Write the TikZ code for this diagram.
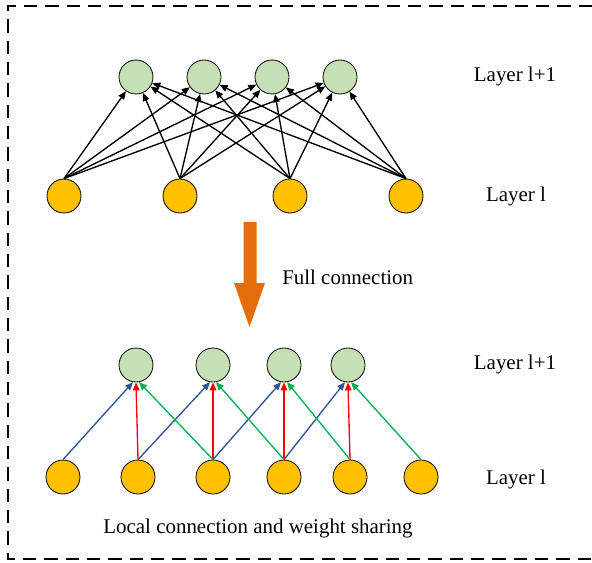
\documentclass[tikz,border=0pt]{standalone}
\usepackage{fontspec}
\setmainfont{Liberation Serif}
\usetikzlibrary{arrows.meta}
\definecolor{outgreen}{HTML}{C5E0B4}
\definecolor{ingold}{HTML}{FFC000}
\definecolor{wblue}{HTML}{2F5597}
\definecolor{wred}{HTML}{FF0000}
\definecolor{wgreen}{HTML}{00B050}
\definecolor{bigorange}{HTML}{E46C0A}

\begin{document}
\begin{tikzpicture}[
    x=0.75pt, y=-0.75pt,
    upper/.style={circle, draw=black, line width=0.6pt, fill=outgreen,
                  minimum size=25.5pt, inner sep=0pt},
    lower/.style={circle, draw=black, line width=0.6pt, fill=ingold,
                  minimum size=25.5pt, inner sep=0pt},
    link/.style={line width=1pt, -{Triangle[length=6pt,width=5pt]}},
    lbl/.style={font=\fontsize{15.7}{19}\selectfont, inner sep=0pt},
    frame/.style={line width=1.1pt, dash pattern=on 10pt off 6pt}
]
\useasboundingbox (0,0) rectangle (592,563);

% --- Outer dashed frame (right side runs off the page) ---
\draw[frame] (592,6) -- (8,6) -- (8,559) -- (592,559);

% --- Full connection: layer l+1 ---
\node[upper] (fu1) at (136,77) {};
\node[upper] (fu2) at (204,77) {};
\node[upper] (fu3) at (272,77) {};
\node[upper] (fu4) at (340,77) {};

% --- Full connection: layer l ---
\node[lower] (fl1) at (64,196) {};
\node[lower] (fl2) at (180,196) {};
\node[lower] (fl3) at (290,196) {};
\node[lower] (fl4) at (406,196) {};

% --- Every input feeds every output ---
\foreach \i in {1,2,3,4}
  \foreach \j in {1,2,3,4}
    \draw[link] (fl\i.north) -- (fu\j);

\node[lbl] (ftop) at (515,76) {Layer l+1};
\node[lbl] (fbot) at (516,196) {Layer l};

% --- Big orange arrow between the two halves ---
\fill[bigorange] (243.5,222) -- (256.5,222) -- (256.5,283) -- (265,283)
    -- (249.5,327) -- (234,283) -- (243.5,283) -- cycle;
\node[lbl, anchor=west] (fulltxt) at (282,277) {Full connection};

% --- Local connection: layer l+1 ---
\node[upper] (lu1) at (136,365) {};
\node[upper] (lu2) at (213,365) {};
\node[upper] (lu3) at (284,365) {};
\node[upper] (lu4) at (348,365) {};

% --- Local connection: layer l ---
\node[lower] (ll1) at (63,477) {};
\node[lower] (ll2) at (138,477) {};
\node[lower] (ll3) at (213,477) {};
\node[lower] (ll4) at (284,477) {};
\node[lower] (ll5) at (350,477) {};
\node[lower] (ll6) at (421,477) {};

% --- Shared weights: one colour per kernel position ---
\draw[link, wblue] (ll1.north) -- (lu1.260);
\draw[link, wblue] (ll2.north) -- (lu2.260);
\draw[link, wblue] (ll3.north) -- (lu3.260);
\draw[link, wblue] (ll4.north) -- (lu4.260);
\draw[link, wred] (ll2.north) -- (lu1.south);
\draw[link, wred] (ll3.north) -- (lu2.south);
\draw[link, wred] (ll4.north) -- (lu3.south);
\draw[link, wred] (ll5.north) -- (lu4.south);
\draw[link, wgreen] (ll3.north) -- (lu1.280);
\draw[link, wgreen] (ll4.north) -- (lu2.280);
\draw[link, wgreen] (ll5.north) -- (lu3.280);
\draw[link, wgreen] (ll6.north) -- (lu4.280);

\node[lbl] (ltop) at (515,364) {Layer l+1};
\node[lbl] (lbot) at (516,479) {Layer l};
\node[lbl] (localtxt) at (258,528) {Local connection and weight sharing};

\end{tikzpicture}
\end{document}
